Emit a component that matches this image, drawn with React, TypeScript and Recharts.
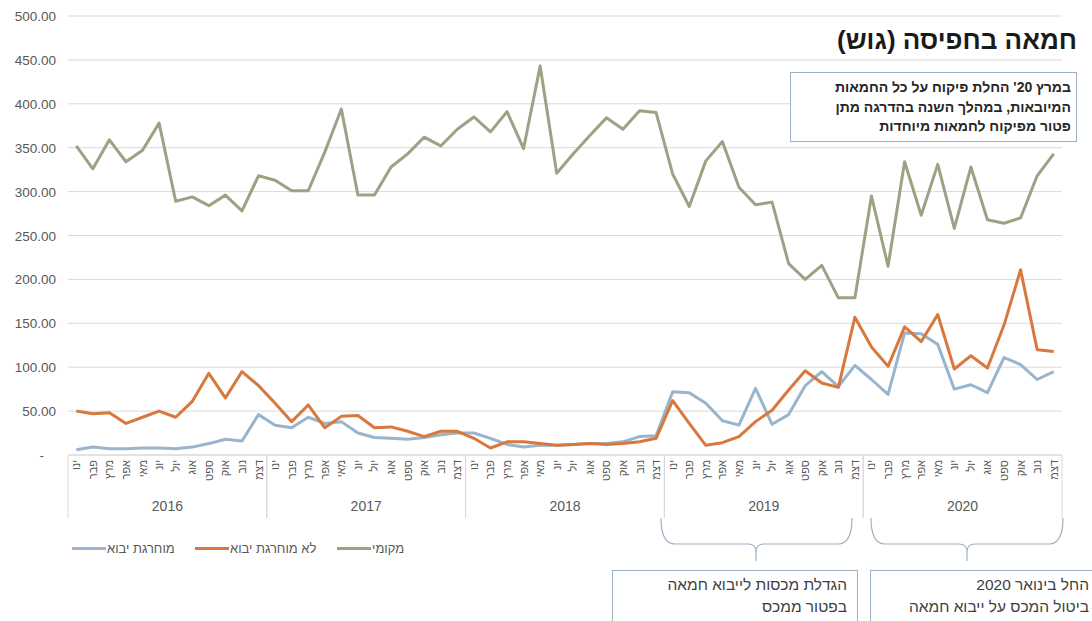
import React from "react";
import { CartesianGrid, Line, LineChart, XAxis, YAxis } from "recharts";

// months (Hebrew short names) and years for the two-level category axis
const monthLabels = ["ינו", "פבר", "מרץ", "אפר", "מאי", "יונ", "יול", "אוג", "ספט", "אוק", "נוב", "דצמ"];
const years = [2016, 2017, 2018, 2019, 2020];

// local butter (green)
const localValues = [
  352, 326, 359, 334, 347, 378, 289, 294, 284, 296, 278, 318,
  313, 301, 301, 345, 394, 296, 296, 328, 343, 362, 352, 371,
  385, 368, 391, 349, 443, 321, 343, 364, 384, 371, 392, 390,
  320, 283, 335, 357, 305, 285, 288, 218, 200, 216, 179, 179,
  295, 215, 334, 273, 331, 258, 328, 268, 264, 270, 318, 343,
];

// imports not exempted (orange)
const notExemptValues = [
  50, 47, 48, 36, 43, 50, 43, 61, 93, 65, 95, 79,
  59, 38, 57, 31, 44, 45, 31, 32, 27, 21, 27, 27,
  19, 8, 15, 15, 13, 11, 12, 13, 12, 13, 15, 19,
  62, 36, 11, 14, 21, 38, 51, 74, 96, 82, 77, 157,
  123, 101, 146, 129, 160, 98, 113, 99, 148, 211, 120, 118,
];

// exempted imports (blue)
const exemptValues = [
  6, 9, 7, 7, 8, 8, 7, 9, 13, 18, 16, 46,
  34, 31, 43, 36, 38, 25, 20, 19, 18, 20, 23, 25,
  25, 19, 12, 9, 11, 11, 12, 13, 13, 15, 21, 22,
  72, 71, 59, 39, 34, 76, 35, 46, 79, 95, 78, 102,
  86, 69, 139, 138, 126, 75, 80, 71, 111, 103, 86, 95,
];

const yTicks = [0, 50, 100, 150, 200, 250, 300, 350, 400, 450, 500];

const data = localValues.map((v, i) => ({
  key: `${years[Math.floor(i / 12)]}-${i % 12}`,
  local: v,
  notExempt: notExemptValues[i],
  exempt: exemptValues[i],
}));

const W = 1092;
const H = 621;
const LEFT = 68;
const RIGHT = 30;
const TOP = 16;
const AXIS_H = 166;
const HALF_BAND = (W - LEFT - RIGHT) / data.length / 2;

const FONT = "'Liberation Sans', Arial, sans-serif";
const GRID = "#d9d9d9";
const TXT = "#595959";
const GREEN = "#9ba384";
const ORANGE = "#d8783f";
const BLUE = "#98b5cd";
const FRAME = "#9fb1c2";

const YTick = (props: any) => {
  const { y, payload } = props;
  const v = payload.value;
  return (
    <text x={v === 0 ? 44 : 56} y={y + 5} textAnchor="end" fontSize={13.5} fill={TXT} fontFamily={FONT}>
      {v === 0 ? "-" : v.toFixed(2)}
    </text>
  );
};

const MonthTick = (props: any) => {
  const { x, y, payload } = props;
  const i = payload.index;
  const m = i % 12;
  return (
    <g>
      <text
        transform={`translate(${x + 4},${y + 5}) rotate(-90)`}
        textAnchor="end"
        fontSize={11}
        fill={TXT}
        fontFamily={FONT}
      >
        {monthLabels[m]}
      </text>
      {m === 0 && <line x1={x - HALF_BAND} x2={x - HALF_BAND} y1={y} y2={y + 63} stroke={GRID} />}
      {m === 11 && <line x1={x + HALF_BAND} x2={x + HALF_BAND} y1={y} y2={y + 63} stroke={GRID} />}
      {m === 5 && (
        <text x={x + HALF_BAND} y={y + 56} textAnchor="middle" fontSize={14} fill={TXT} fontFamily={FONT}>
          {years[Math.floor(i / 12)]}
        </text>
      )}
    </g>
  );
};

const legendItems = [
  { label: "מוחרגת יבוא", color: BLUE, left: 72 },
  { label: "לא מוחרגת יבוא", color: ORANGE, left: 195 },
  { label: "מקומי", color: GREEN, left: 337 },
];

const Brace = ({ x1, x2, cx }: { x1: number; x2: number; cx: number }) => {
  const top = 518;
  const mid = 544;
  const bottom = 561;
  const d =
    `M${x1},${top} Q${x1},${mid} ${x1 + 14},${mid} L${cx - 8},${mid} Q${cx},${mid} ${cx},${mid + 8} L${cx},${bottom} ` +
    `M${cx},${mid + 8} Q${cx},${mid} ${cx + 8},${mid} L${x2 - 14},${mid} Q${x2},${mid} ${x2},${top}`;
  return <path d={d} fill="none" stroke={FRAME} strokeWidth={1.2} />;
};

export default function App() {
  return (
    <div
      style={{
        position: "absolute",
        left: 0,
        top: 0,
        width: W,
        height: H,
        overflow: "hidden",
        background: "#fff",
        fontFamily: FONT,
      }}
    >
      <LineChart width={W} height={H} data={data} margin={{ top: TOP, right: RIGHT, left: 0, bottom: 0 }}>
        <CartesianGrid vertical={false} stroke={GRID} strokeWidth={1} />
        <YAxis
          width={LEFT}
          domain={[0, 500]}
          ticks={yTicks}
          axisLine={false}
          tickLine={false}
          tick={<YTick />}
        />
        <XAxis
          dataKey="key"
          height={AXIS_H}
          interval={0}
          tickSize={0}
          tickMargin={0}
          tickLine={false}
          padding={{ left: HALF_BAND, right: HALF_BAND }}
          axisLine={{ stroke: GRID }}
          tick={<MonthTick />}
        />
        <Line type="linear" dataKey="exempt" stroke={BLUE} strokeWidth={3} dot={false} isAnimationActive={false} strokeLinejoin="round" />
        <Line type="linear" dataKey="notExempt" stroke={ORANGE} strokeWidth={3} dot={false} isAnimationActive={false} strokeLinejoin="round" />
        <Line type="linear" dataKey="local" stroke={GREEN} strokeWidth={3} dot={false} isAnimationActive={false} strokeLinejoin="round" />
      </LineChart>

      {/* title */}
      <div
        style={{
          position: "absolute",
          right: W - 1077,
          top: 25,
          fontSize: 26,
          fontWeight: "bold",
          color: "#1a1a1a",
          direction: "rtl",
          whiteSpace: "nowrap",
          lineHeight: "30px",
        }}
      >
        חמאה בחפיסה (גוש)
      </div>

      {/* top note */}
      <div
        style={{
          position: "absolute",
          left: 790,
          top: 72,
          width: 287,
          height: 70,
          boxSizing: "border-box",
          border: `1.5px solid ${FRAME}`,
          background: "#fff",
          direction: "rtl",
          textAlign: "right",
          padding: "5px 5px 0 0",
          fontSize: 14,
          fontWeight: "bold",
          lineHeight: "19.5px",
          color: "#262626",
          whiteSpace: "nowrap",
        }}
      >
        <div>במרץ 20' החלת פיקוח על כל החמאות</div>
        <div>המיובאות, במהלך השנה בהדרגה מתן</div>
        <div>פטור מפיקוח לחמאות מיוחדות</div>
      </div>

      {/* legend */}
      {legendItems.map((it) => (
        <div
          key={it.label}
          style={{ position: "absolute", left: it.left, top: 539, display: "flex", alignItems: "center", height: 18 }}
        >
          <div style={{ width: 34, height: 3, background: it.color }} />
          <span style={{ fontSize: 13, color: TXT, marginLeft: 1, direction: "rtl", whiteSpace: "nowrap" }}>{it.label}</span>
        </div>
      ))}

      {/* braces and bottom notes */}
      <svg width={W} height={H} style={{ position: "absolute", left: 0, top: 0, pointerEvents: "none" }}>
        <Brace x1={661} x2={852} cx={756} />
        <Brace x1={871} x2={1063} cx={967} />
      </svg>

      <div
        style={{
          position: "absolute",
          left: 612,
          top: 570,
          width: 246,
          height: 70,
          boxSizing: "border-box",
          border: `1.2px solid ${FRAME}`,
          direction: "rtl",
          textAlign: "right",
          padding: "3px 10px 0 0",
          fontSize: 15.5,
          lineHeight: "22px",
          color: "#404040",
          whiteSpace: "nowrap",
        }}
      >
        <div>הגדלת מכסות לייבוא חמאה</div>
        <div>בפטור ממכס</div>
      </div>

      <div
        style={{
          position: "absolute",
          left: 870,
          top: 570,
          width: 240,
          height: 70,
          boxSizing: "border-box",
          border: `1.2px solid ${FRAME}`,
          direction: "rtl",
          textAlign: "right",
          padding: "3px 20px 0 0",
          fontSize: 15.5,
          lineHeight: "22px",
          color: "#404040",
          whiteSpace: "nowrap",
        }}
      >
        <div>החל בינואר 2020</div>
        <div>ביטול המכס על ייבוא חמאה</div>
      </div>
    </div>
  );
}
